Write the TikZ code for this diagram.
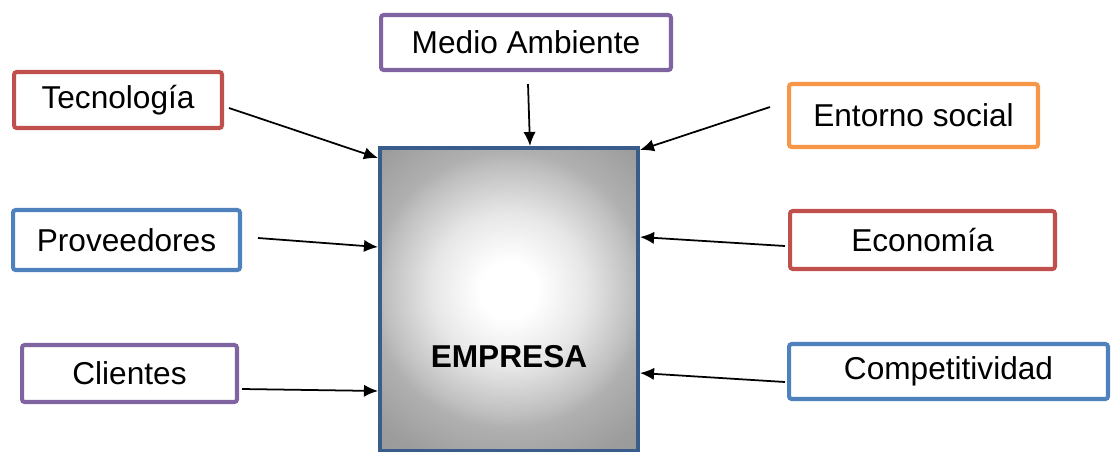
\documentclass[tikz,border=0pt]{standalone}
\usepackage{fontspec}
\setmainfont{Liberation Sans}
\usetikzlibrary{arrows.meta,positioning}
\tikzset{>={Latex[length=8pt,width=7pt]}}
\definecolor{redBox}{HTML}{C0504D}
\definecolor{purpleBox}{HTML}{8064A2}
\definecolor{orangeBox}{HTML}{F79646}
\definecolor{blueBox}{HTML}{4F81BD}
\definecolor{coreBorder}{HTML}{385D8A}
\pgfdeclareradialshading{empresashade}{\pgfpoint{0bp}{0bp}}{color(0bp)=(white); color(3.4bp)=(white); color(9.15bp)=(gray!19); color(14.75bp)=(gray!50); color(16.45bp)=(gray!62); color(22bp)=(gray!77); color(25bp)=(gray!80); color(50bp)=(gray!80)}
\tikzset{factor/.style={draw,line width=2.3pt,rounded corners=1.5pt,fill=white,inner sep=0pt,font=\fontsize{18}{21}\selectfont},
	link/.style={->,line width=1pt}}

\begin{document}
\begin{tikzpicture}[x=0.02cm,y=-0.02cm]
				\useasboundingbox (0,0) rectangle (1111,451);
				% centro
				\node[draw=coreBorder,line width=2.3pt,minimum width=5.16cm,minimum height=6.06cm,inner sep=0pt,
					path picture={\shade[shading=empresashade] ([yshift=0.19cm]path picture bounding box.center) circle (4.2cm);}] (empresa) at (509,299.5) {};
				\node[font=\fontsize{18}{21}\selectfont\bfseries] (empresatxt) at (509,357) {EMPRESA};
				% factores
				\node[factor,draw=purpleBox,minimum width=5.8cm,minimum height=1.1cm] (medio) at (526,42.5) {Medio Ambiente\hspace{0.3cm}};
				\node[factor,draw=redBox,minimum width=4.16cm,minimum height=1.12cm] (tec) at (118,100) {\raisebox{-0.06cm}{Tecnología}\hspace{0.1cm}};
				\node[factor,draw=orangeBox,minimum width=4.98cm,minimum height=1.26cm] (entorno) at (913.5,115.5) {Entorno social};
				\node[factor,draw=blueBox,minimum width=4.54cm,minimum height=1.2cm] (prov) at (126.5,240) {Proveedores};
				\node[factor,draw=redBox,minimum width=5.3cm,minimum height=1.16cm] (eco) at (922.5,240) {Economía};
				\node[factor,draw=purpleBox,minimum width=4.3cm,minimum height=1.14cm] (cli) at (129.5,373.5) {Clientes};
				\node[factor,draw=blueBox,minimum width=6.38cm,minimum height=1.1cm] (comp) at (948.5,371.5) {Competitividad};
				% flechas
				\coordinate (tecout) at (229,108);
				\coordinate (medioout) at (528,84);
				\coordinate (entout) at (770,107);
				\coordinate (provout) at (258,238);
				\coordinate (ecoout) at (785,246);
				\coordinate (cliout) at (242,389);
				\coordinate (compout) at (785,382);
				\draw[link] (tecout) -- ([yshift=-0.24cm]empresa.north west);
				\draw[link] (medioout) -- ([xshift=0.42cm]empresa.north);
				\draw[link] (entout) -- ([yshift=-0.08cm]empresa.north east);
				\draw[link] (provout) -- ([yshift=1.05cm]empresa.west);
				\draw[link] (ecoout) -- ([yshift=1.25cm]empresa.east);
				\draw[link] (cliout) -- ([yshift=-1.83cm]empresa.west);
				\draw[link] (compout) -- ([yshift=-1.47cm]empresa.east);
\end{tikzpicture}
\end{document}
